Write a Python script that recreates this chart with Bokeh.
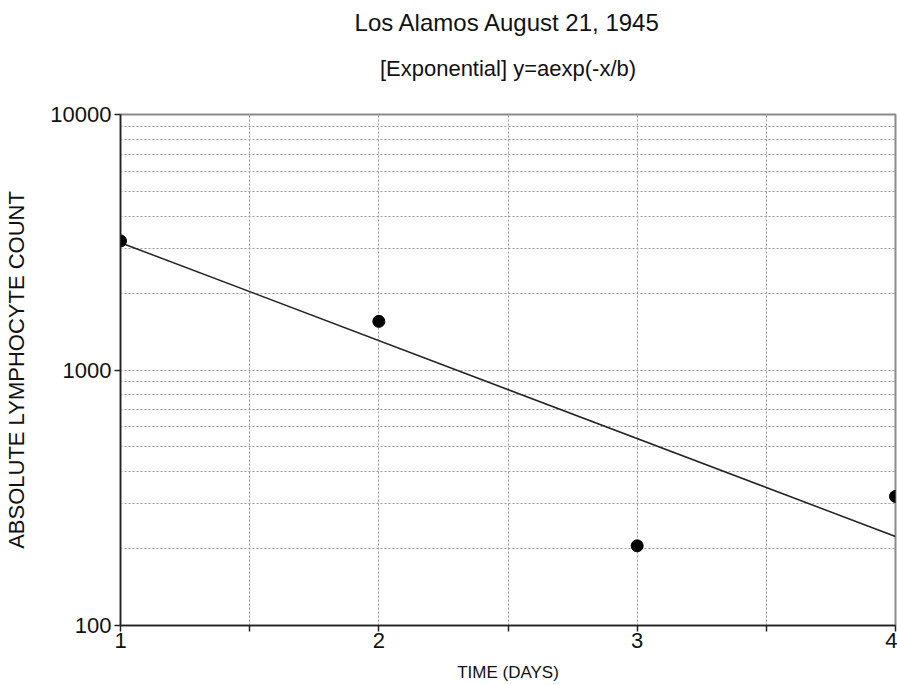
from bokeh.plotting import figure
from bokeh.models import FixedTicker, BasicTickFormatter, Title, Range1d
from bokeh.embed import file_html
from bokeh.resources import INLINE

# ---- data ----
days = [1, 2, 3, 4]
counts = [3200, 1550, 205, 320]
fit_days = [1, 4]
fit_counts = [3150, 223]

x_ticks = [1, 2, 3, 4]
x_minor_ticks = [1.5, 2.5, 3.5]
y_ticks = [100, 1000, 10000]
y_minor_ticks = [200, 300, 400, 500, 600, 700, 800, 900,
                 2000, 3000, 4000, 5000, 6000, 7000, 8000, 9000]

title_text = "Los Alamos August 21, 1945"
subtitle_text = "[Exponential] y=aexp(-x/b)"
x_label = "TIME (DAYS)"
y_label = "ABSOLUTE LYMPHOCYTE COUNT"

FONT = "Liberation Sans"

p = figure(width=897, height=685, y_axis_type="log",
           x_range=Range1d(1, 4), y_range=Range1d(100, 10000),
           output_backend="svg", toolbar_location=None,
           min_border_left=120, min_border_right=2,
           min_border_top=114, min_border_bottom=60)

p.background_fill_color = "white"
p.border_fill_color = "white"
p.outline_line_color = "#8a8a8a"
p.outline_line_width = 2

# axes
p.xaxis.ticker = FixedTicker(ticks=x_ticks, minor_ticks=x_minor_ticks)
p.yaxis.ticker = FixedTicker(ticks=y_ticks, minor_ticks=y_minor_ticks)
p.yaxis.formatter = BasicTickFormatter(use_scientific=False)

for ax in (p.xaxis[0], p.yaxis[0]):
    ax.axis_line_color = "#222222"
    ax.axis_line_width = 1.5
    ax.major_tick_in = 0
    ax.major_tick_out = 6
    ax.major_tick_line_color = "#222222"
    ax.major_tick_line_width = 1.5
    ax.major_label_text_font = FONT
    ax.major_label_text_font_size = "22px"
    ax.major_label_text_color = "#111111"
    ax.axis_label_text_font = FONT
    ax.axis_label_text_font_style = "normal"
    ax.axis_label_text_color = "#111111"

p.xaxis.minor_tick_in = 0
p.xaxis.minor_tick_out = 6
p.xaxis.minor_tick_line_color = "#222222"
p.xaxis.minor_tick_line_width = 1.5
p.yaxis.minor_tick_in = 0
p.yaxis.minor_tick_out = 0

p.xaxis.major_label_standoff = 1
p.yaxis.major_label_standoff = 3

p.xaxis.axis_label = x_label
p.xaxis.axis_label_text_font_size = "17px"
p.xaxis.axis_label_standoff = 12
p.yaxis.axis_label = y_label
p.yaxis.axis_label_text_font_size = "22px"
p.yaxis.axis_label_standoff = 18

# grids (dotted)
for g in (p.xgrid[0], p.ygrid[0]):
    g.grid_line_color = "#9a9a9a"
    g.grid_line_dash = "2 2"
    g.grid_line_width = 1
    g.minor_grid_line_color = "#9a9a9a"
    g.minor_grid_line_dash = "2 2"
    g.minor_grid_line_width = 1

# fit line and data points
p.line(fit_days, fit_counts, line_color="#222222", line_width=1.5)
p.scatter(days, counts, size=12, marker="circle",
          fill_color="black", line_color="black")

# titles (subtitle first: nearest to the frame)
p.add_layout(Title(text=subtitle_text, align="center", vertical_align="top",
                   text_font=FONT, text_font_size="22px",
                   text_font_style="normal", text_color="#111111",
                   standoff=-118), "above")
p.add_layout(Title(text=title_text, align="center", vertical_align="top",
                   text_font=FONT, text_font_size="24px",
                   text_font_style="normal", text_color="#111111",
                   standoff=-212), "above")

open("out.html", "w").write(file_html(p, INLINE))
